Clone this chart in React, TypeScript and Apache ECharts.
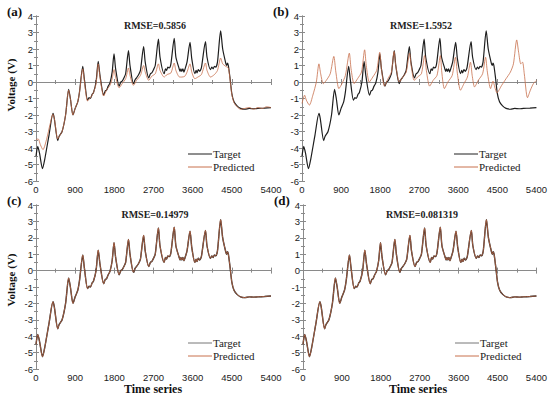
import React, { useEffect, useRef } from "react";
import * as echarts from "echarts";

const X_TICKS = [0, 900, 1800, 2700, 3600, 4500, 5400];
const Y_TICKS = [-6, -5, -4, -3, -2, -1, 0, 1, 2, 3, 4];

const TARGET: [number, number][] = [
  [0, -4.5], [40, -3.9], [80, -4.3], [150, -5.25], [200, -4.7], [300, -3.2], [390, -1.9], [420, -2.2],
  [500, -3.55], [530, -3.3], [600, -3.0], [680, -2.0], [750, -0.45], [790, -1.0], [850, -2.0], [900, -1.6],
  [960, -1.2], [1000, -0.6], [1075, 0.95], [1110, 0.2], [1185, -1.1], [1220, -0.95], [1250, -1.0], [1290, -0.75],
  [1320, -0.65], [1380, 0.0], [1430, 1.25], [1470, 0.4], [1555, -0.8], [1590, -0.55], [1620, -0.5], [1660, -0.25],
  [1700, -0.05], [1750, 0.6], [1793, 1.7], [1830, 0.8], [1910, -0.25], [1950, 0.0], [1980, 0.05], [2020, 0.25],
  [2060, 0.5], [2125, 1.9], [2160, 1.0], [2240, -0.1], [2280, 0.15], [2310, 0.25], [2360, 0.45], [2400, 0.7],
  [2473, 2.15], [2510, 1.2], [2590, 0.25], [2630, 0.5], [2660, 0.55], [2700, 0.75], [2740, 1.0], [2813, 2.6],
  [2850, 1.5], [2945, 0.5], [2975, 0.8], [3000, 0.7], [3030, 0.9], [3060, 0.85], [3100, 1.1], [3176, 2.65],
  [3215, 1.5], [3290, 0.8], [3310, 0.65], [3330, 0.8], [3350, 0.65], [3375, 0.8], [3400, 0.6], [3420, 0.75],
  [3470, 1.2], [3539, 2.4], [3580, 1.4], [3650, 0.5], [3680, 0.7], [3700, 0.55], [3730, 0.75], [3760, 0.65],
  [3800, 0.85], [3894, 2.45], [3930, 1.5], [4010, 0.75], [4040, 0.9], [4070, 0.8], [4100, 0.95], [4130, 0.9],
  [4170, 1.2], [4243, 3.1], [4290, 2.0], [4360, 1.15], [4380, 1.0], [4400, 1.15], [4420, 1.0], [4460, 0.2],
  [4500, -0.7], [4550, -1.2], [4620, -1.45], [4700, -1.6], [4800, -1.65], [4900, -1.6], [5000, -1.62],
  [5100, -1.6], [5250, -1.58], [5400, -1.55],
];

const PRED_A: [number, number][] = [
  [0, -3.5], [50, -3.45], [100, -3.8], [160, -4.1], [250, -3.4], [320, -2.6], [390, -1.95], [420, -2.2],
  [500, -3.45], [530, -3.3], [600, -3.0], [680, -2.0], [750, -0.5], [790, -1.0], [850, -2.0], [900, -1.6],
  [960, -1.2], [1000, -0.6], [1075, 0.8], [1110, 0.1], [1185, -1.15], [1250, -0.95], [1320, -0.65], [1380, -0.1],
  [1430, 1.1], [1470, 0.3], [1555, -0.85], [1620, -0.5], [1700, -0.2], [1750, 0.2], [1793, 0.75], [1830, 0.3],
  [1910, -0.35], [1980, -0.1], [2060, 0.2], [2125, 0.85], [2160, 0.4], [2240, -0.2], [2310, 0.1], [2400, 0.4],
  [2473, 1.0], [2510, 0.6], [2590, 0.1], [2660, 0.35], [2740, 0.5], [2813, 1.1], [2850, 0.7], [2945, 0.3],
  [3010, 0.45], [3100, 0.55], [3176, 1.15], [3215, 0.7], [3300, 0.3], [3350, 0.3], [3420, 0.35], [3470, 0.6],
  [3539, 1.1], [3580, 0.6], [3650, 0.2], [3720, 0.3], [3800, 0.45], [3894, 1.15], [3930, 0.7], [4010, 0.3],
  [4100, 0.45], [4170, 0.7], [4243, 1.45], [4290, 1.1], [4360, 0.95], [4420, 0.85], [4460, 0.1], [4500, -0.75],
  [4550, -1.25], [4620, -1.5], [4700, -1.65], [4800, -1.6], [4900, -1.55], [5000, -1.65], [5100, -1.55],
  [5200, -1.6], [5300, -1.5], [5400, -1.55],
];

const PRED_B: [number, number][] = [
  [0, -1.3], [60, -0.8], [100, -1.1], [170, -1.4], [250, -0.8], [330, 0.0], [390, 1.1], [430, 0.5],
  [490, -0.1], [560, 0.1], [650, 0.5], [733, 1.55], [780, 0.6], [850, -0.4], [920, -0.1], [1000, 0.4],
  [1090, 1.75], [1130, 0.8], [1200, -0.1], [1280, 0.2], [1370, 0.6], [1443, 1.95], [1480, 1.0], [1550, 0.0],
  [1630, 0.3], [1720, 0.7], [1790, 1.8], [1830, 0.8], [1900, -0.25], [1980, 0.2], [2060, 0.6], [2122, 1.85],
  [2160, 1.0], [2245, 0.0], [2320, 0.3], [2400, 0.6], [2477, 1.75], [2520, 0.9], [2585, 0.1], [2660, 0.3],
  [2750, 0.5], [2824, 1.6], [2870, 0.6], [2940, -0.25], [3020, 0.1], [3110, 0.4], [3187, 1.6], [3220, 0.6],
  [3280, -0.4], [3360, 0.0], [3460, 0.4], [3534, 1.5], [3580, 0.5], [3650, -0.5], [3730, -0.1], [3810, 0.3],
  [3881, 1.2], [3920, 0.4], [3975, -0.3], [4060, 0.1], [4160, 0.5], [4228, 1.5], [4270, 0.6], [4344, -0.4],
  [4400, 0.05], [4440, -0.3], [4490, -0.65], [4600, -0.2], [4700, 0.2], [4800, 0.6], [4870, 1.1], [4946, 2.55],
  [4990, 1.8], [5040, 1.1], [5080, 1.2], [5120, 0.5], [5194, -0.95], [5260, -0.5], [5330, -0.1], [5400, 0.1],
];

// (c) and (d): predictions lie on the target curve
const PRED_C: [number, number][] = TARGET;
const PRED_D: [number, number][] = TARGET;

const PANEL_LABELS = ["(a)", "(b)", "(c)", "(d)"];
const RMSE_TEXTS = ["RMSE=0.5856", "RMSE=1.5952", "RMSE=0.14979", "RMSE=0.081319"];
const PREDS = [PRED_A, PRED_B, PRED_C, PRED_D];

const TARGET_COLOR = "#1e1e1e";
const PRED_COLOR = "#c8704c";
const AXIS_COLOR = "#8a8a8a";
const SERIF = "'Liberation Serif', 'Times New Roman', serif";
const SANS = "'Liberation Sans', Arial, sans-serif";

const GRIDS = [
  { left: 36, top: 16, width: 235, height: 165 },
  { left: 302, top: 16, width: 235, height: 165 },
  { left: 36, top: 205, width: 235, height: 164 },
  { left: 303, top: 205, width: 234, height: 164 },
];

export default function App() {
  const ref = useRef<HTMLDivElement>(null);
  useEffect(() => {
    document.body.style.margin = "0";
    if (!ref.current) return;
    const chart = echarts.init(ref.current, undefined, { renderer: "svg" });
    const xAxes: any[] = [];
    const yAxes: any[] = [];
    const series: any[] = [];
    const graphic: any[] = [];
    GRIDS.forEach((g, i) => {
      const common = {
        gridIndex: i,
        type: "value",
        axisLine: { show: true, lineStyle: { color: AXIS_COLOR, width: 1 } },
        axisTick: { show: true, inside: true, length: 3, lineStyle: { color: AXIS_COLOR } },
        minorTick: { show: true, splitNumber: 2, length: 2, lineStyle: { color: AXIS_COLOR } },
        splitLine: { show: false },
      };
      const label = {
        show: true,
        color: "#222",
        fontFamily: SANS,
        fontSize: 9.5,
        margin: 3,
        formatter: (v: number) => String(v),
      };
      const xc = { ...common, min: X_TICKS[0], max: X_TICKS[X_TICKS.length - 1], interval: X_TICKS[1] - X_TICKS[0] };
      const yc = { ...common, min: Y_TICKS[0], max: Y_TICKS[Y_TICKS.length - 1], interval: Y_TICKS[1] - Y_TICKS[0] };
      xAxes.push({ ...xc, position: "bottom", axisLabel: label });
      xAxes.push({ ...xc, position: "top", axisLabel: { show: false } });
      yAxes.push({ ...yc, position: "left", axisLabel: label });
      yAxes.push({ ...yc, position: "right", axisLabel: { show: false } });
      series.push({
        type: "line",
        name: "Target",
        xAxisIndex: 2 * i,
        yAxisIndex: 2 * i,
        data: TARGET,
        showSymbol: false,
        smooth: 0.25,
        lineStyle: { color: TARGET_COLOR, width: i >= 2 ? 1.4 : 1.2 },
        itemStyle: { color: TARGET_COLOR },
        z: 2,
      });
      series.push({
        type: "line",
        name: "Predicted",
        xAxisIndex: 2 * i,
        yAxisIndex: 2 * i,
        data: PREDS[i],
        showSymbol: false,
        smooth: 0.25,
        lineStyle: { color: PRED_COLOR, width: 0.8 },
        itemStyle: { color: PRED_COLOR },
        z: 3,
      });
      graphic.push({
        type: "text",
        left: g.left - 29,
        top: g.top - 11,
        style: { text: PANEL_LABELS[i], font: `bold 13px ${SERIF}`, fill: "#111" },
      });
      graphic.push({
        type: "text",
        x: g.left + 119,
        y: g.top + 9,
        style: {
          text: RMSE_TEXTS[i],
          font: `bold 10px ${SERIF}`,
          fill: "#222",
          textAlign: "center",
          textVerticalAlign: "middle",
        },
      });
      const lx = g.left + 152;
      const ly1 = g.top + 138;
      const ly2 = g.top + 151;
      graphic.push({
        type: "line",
        shape: { x1: lx, y1: ly1, x2: lx + 24, y2: ly1 },
        style: { stroke: i >= 2 ? "#777" : TARGET_COLOR, lineWidth: 1 },
      });
      graphic.push({
        type: "text",
        x: lx + 25,
        y: ly1,
        style: { text: "Target", font: `11px ${SERIF}`, fill: "#222", textVerticalAlign: "middle" },
      });
      graphic.push({
        type: "line",
        shape: { x1: lx, y1: ly2, x2: lx + 24, y2: ly2 },
        style: { stroke: PRED_COLOR, lineWidth: 1 },
      });
      graphic.push({
        type: "text",
        x: lx + 25,
        y: ly2,
        style: { text: "Predicted", font: `11px ${SERIF}`, fill: "#222", textVerticalAlign: "middle" },
      });
    });
    graphic.push({
      type: "text",
      x: 11,
      y: 85,
      rotation: Math.PI / 2,
      style: { text: "Voltage (V)", font: `bold 11px ${SERIF}`, fill: "#111", textAlign: "center", textVerticalAlign: "middle" },
    });
    graphic.push({
      type: "text",
      x: 11,
      y: 280,
      rotation: Math.PI / 2,
      style: { text: "Voltage (V)", font: `bold 11px ${SERIF}`, fill: "#111", textAlign: "center", textVerticalAlign: "middle" },
    });
    graphic.push({
      type: "text",
      x: 153,
      y: 389,
      style: { text: "Time series", font: `bold 12px ${SERIF}`, fill: "#111", textAlign: "center", textVerticalAlign: "middle" },
    });
    graphic.push({
      type: "text",
      x: 418,
      y: 389,
      style: { text: "Time series", font: `bold 12px ${SERIF}`, fill: "#111", textAlign: "center", textVerticalAlign: "middle" },
    });

    chart.setOption({
      animation: false,
      backgroundColor: "#ffffff",
      grid: GRIDS.map((g) => ({ ...g, containLabel: false })),
      xAxis: xAxes,
      yAxis: yAxes,
      series,
      graphic,
    });
    return () => chart.dispose();
  }, []);
  return <div ref={ref} style={{ width: 550, height: 398 }} />;
}
